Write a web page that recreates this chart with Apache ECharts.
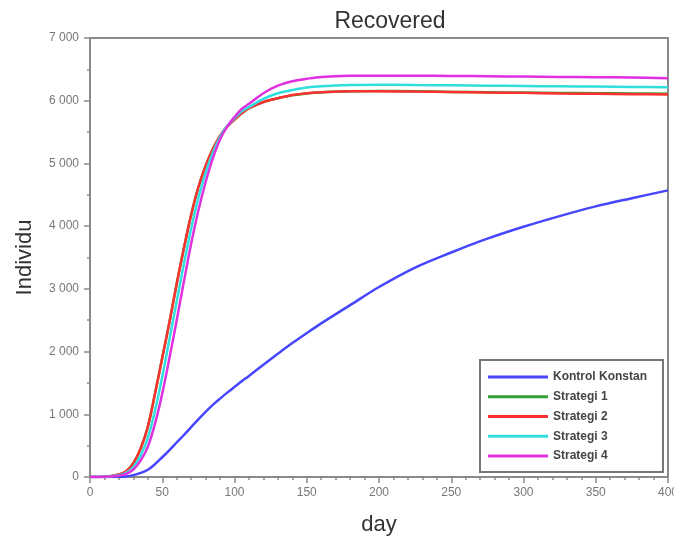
<!DOCTYPE html>
<html>
<head>
<meta charset="utf-8">
<script src="https://cdn.jsdelivr.net/npm/echarts@6/dist/echarts.min.js"></script>
<style>html,body{margin:0;padding:0;background:#fff}#c{width:674px;height:539px}</style>
</head>
<body>
<div id="c"></div>
<script>
const days = [0,10,20,25,30,35,40,45,50,55,60,65,70,75,80,85,90,95,100,105,110,120,130,140,150,160,180,200,225,250,275,300,325,350,375,400];
const kontrolKonstan = [0,0,2,8,30,65,115,205,315,430,550,670,795,920,1040,1150,1250,1345,1435,1525,1612,1790,1965,2135,2295,2450,2740,3030,3340,3580,3800,3990,4160,4315,4445,4570];
const strategi1 = [0,5,40,90,220,450,800,1330,1900,2470,3080,3650,4180,4620,4960,5230,5440,5590,5700,5800,5880,5980,6040,6085,6115,6135,6150,6155,6150,6140,6135,6130,6125,6120,6115,6110];
const strategi2 = [0,5,40,90,220,450,800,1330,1900,2470,3080,3650,4180,4620,4960,5230,5440,5590,5700,5800,5880,5980,6040,6090,6120,6135,6150,6150,6145,6140,6130,6125,6115,6110,6105,6100];
const strategi3 = [0,4,30,65,160,340,620,1060,1600,2200,2800,3400,3960,4450,4850,5170,5420,5600,5720,5830,5900,6030,6120,6170,6210,6230,6250,6255,6250,6245,6240,6235,6230,6225,6220,6215];
const strategi4 = [0,3,22,50,120,260,480,850,1330,1900,2500,3120,3720,4250,4700,5080,5380,5590,5740,5870,5950,6120,6240,6310,6350,6380,6398,6400,6400,6395,6390,6385,6380,6375,6370,6360];
const names = ['Kontrol Konstan','Strategi 1','Strategi 2','Strategi 3','Strategi 4'];
const colors = ['#4646ff','#34a034','#ff3030','#30dede','#e030e0'];
const seriesValues = [kontrolKonstan, strategi1, strategi2, strategi3, strategi4];

const chart = echarts.init(document.getElementById('c'));
const axisGray = '#8a8a8a';
const fmt = v => v >= 1000 ? Math.floor(v/1000) + ' ' + String(v%1000).padStart(3,'0') : String(v);
chart.setOption({
  animation: false,
  backgroundColor: '#fff',
  title: {
    text: 'Recovered', left: 385, top: 5, textAlign: 'center',
    textStyle: {fontFamily: 'Liberation Sans', fontSize: 23, fontWeight: 'normal', color: '#333'}
  },
  legend: {
    orient: 'vertical', left: 480, top: 360,
    padding: [10, 16, 9, 8],
    icon: 'rect',
    itemWidth: 60, itemHeight: 3, itemGap: 5.75,
    backgroundColor: '#fff', borderColor: '#777', borderWidth: 2,
    textStyle: {fontFamily: 'Liberation Sans', fontSize: 12, lineHeight: 14, fontWeight: 'bold', color: '#444'},
    data: names
  },
  grid: {left: 90, right: 6, top: 38, bottom: 62, show: true, borderColor: axisGray, borderWidth: 2, outerBoundsMode: 'none', containLabel: false},
  xAxis: {
    type: 'value', min: 0, max: 400, interval: 50,
    name: 'day', nameLocation: 'middle', nameGap: 37,
    nameTextStyle: {fontFamily: 'Liberation Sans', fontSize: 22, color: '#333'},
    axisLine: {lineStyle: {color: axisGray, width: 2}},
    axisTick: {show: true, inside: false, length: 6, lineStyle: {color: axisGray, width: 1.5}},
    minorTick: {show: true, splitNumber: 5, length: 3, lineStyle: {color: axisGray, width: 1.5}},
    splitLine: {show: false},
    axisLabel: {fontFamily: 'Liberation Sans', fontSize: 12, color: '#777', margin: 10}
  },
  yAxis: {
    type: 'value', min: 0, max: 7000, interval: 1000,
    name: 'Individu', nameLocation: 'middle', nameGap: 54, nameRotate: 90,
    nameTextStyle: {fontFamily: 'Liberation Sans', fontSize: 22, color: '#333'},
    axisLine: {show: true, lineStyle: {color: axisGray, width: 2}},
    axisTick: {show: true, inside: false, length: 6, lineStyle: {color: axisGray, width: 1.5}},
    minorTick: {show: true, splitNumber: 2, length: 3, lineStyle: {color: axisGray, width: 1.5}},
    splitLine: {show: false},
    axisLabel: {fontFamily: 'Liberation Sans', fontSize: 12, color: '#777', margin: 11, formatter: fmt}
  },
  series: names.map((n, i) => ({
    name: n, type: 'line', showSymbol: false, symbol: 'none', smooth: 0.35,
    color: colors[i],
    lineStyle: {color: colors[i], width: 2.5},
    data: days.map((d, j) => [d, seriesValues[i][j]])
  }))
});
</script>
</body>
</html>
